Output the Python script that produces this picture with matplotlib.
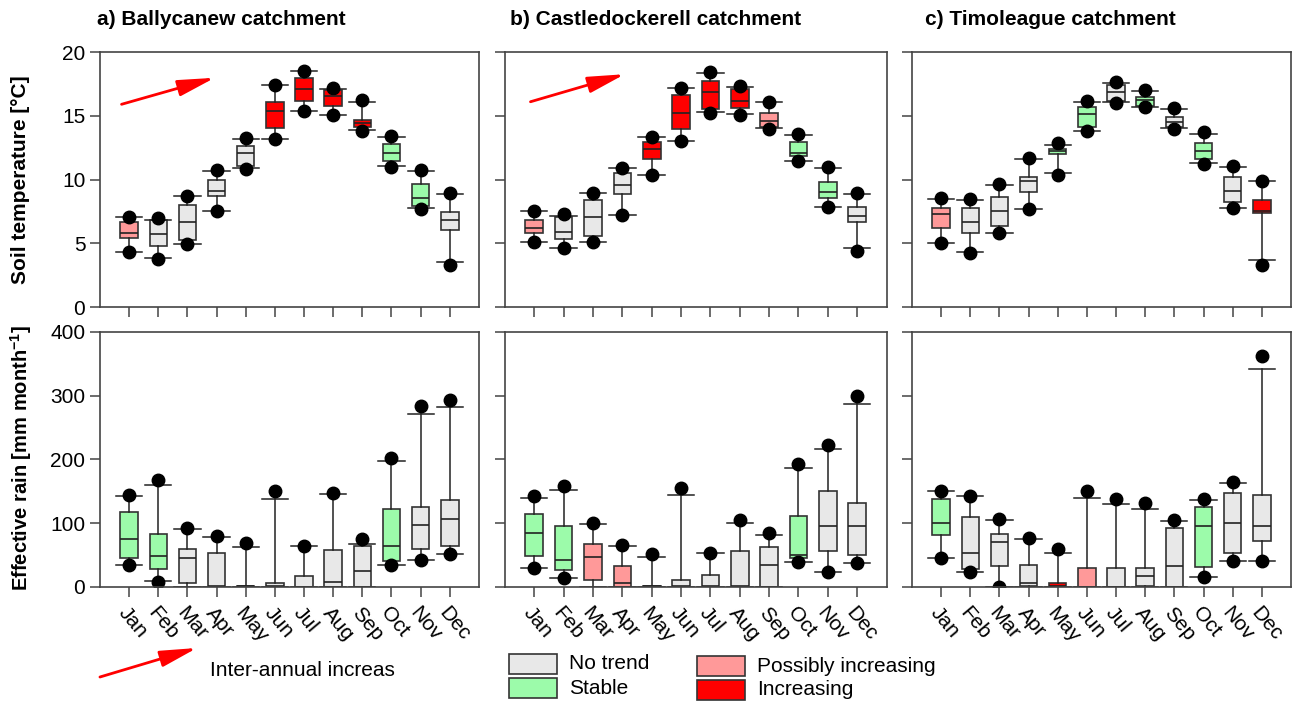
import numpy as np
import matplotlib
matplotlib.use("Agg")
import matplotlib.pyplot as plt
from matplotlib.patches import Rectangle, FancyArrowPatch

plt.rcParams['font.family'] = ['Liberation Sans', 'DejaVu Sans']
plt.rcParams['mathtext.fontset'] = 'custom'
plt.rcParams['mathtext.rm'] = 'Liberation Sans'
plt.rcParams['mathtext.bf'] = 'Liberation Sans:bold'

months = ['Jan', 'Feb', 'Mar', 'Apr', 'May', 'Jun', 'Jul', 'Aug', 'Sep', 'Oct', 'Nov', 'Dec']
catchments = ['a) Ballycanew catchment', 'b) Castledockerell catchment', 'c) Timoleague catchment']
nan = np.nan

# soil temperature, Ballycanew
ta_dot_hi = [7.08, 6.95, 8.73, 10.75, 13.23, 17.41, 18.51, 17.2, 16.24, 13.41, 10.75, 8.92]
ta_whi_hi = [7.05, 6.82, 8.7, 10.7, 13.2, 17.4, 18.5, 17.1, 16.05, 13.31, 10.7, 8.84]
ta_q3 = [6.64, 6.82, 8.0, 9.96, 12.65, 16.05, 17.99, 17.02, 14.67, 12.76, 9.65, 7.48]
ta_med = [5.83, 5.73, 6.64, 9.12, 12.1, 15.4, 17.1, 16.58, 14.4, 12.05, 8.52, 6.82]
ta_q1 = [5.39, 4.78, 5.25, 8.73, 11.06, 14.07, 16.18, 15.76, 14.09, 11.45, 7.92, 6.04]
ta_whi_lo = [4.34, 3.82, 4.94, 7.56, 10.88, 13.18, 15.37, 15.06, 13.88, 11.06, 7.74, 3.56]
ta_dot_lo = [4.34, 3.77, 4.94, 7.56, 10.85, 13.18, 15.37, 15.06, 13.8, 10.98, 7.69, 3.29]
ta_trend = ['P', 'N', 'N', 'N', 'N', 'I', 'I', 'I', 'I', 'S', 'S', 'N']

# soil temperature, Castledockerell
tb_dot_hi = [7.53, 7.27, 8.97, 10.93, 13.31, 17.2, 18.41, 17.33, 16.1, 13.57, 10.96, 8.92]
tb_whi_hi = [7.5, 7.16, 8.95, 10.9, 13.3, 17.15, 18.33, 17.23, 16.05, 13.5, 10.9, 8.85]
tb_q3 = [6.82, 7.03, 8.39, 10.53, 12.92, 16.63, 17.73, 17.1, 15.19, 12.92, 9.78, 7.87]
tb_med = [6.17, 5.86, 7.03, 9.57, 12.39, 15.24, 16.89, 16.16, 14.61, 12.05, 9.05, 7.16]
tb_q1 = [5.83, 5.3, 5.57, 8.86, 11.61, 13.93, 15.5, 15.58, 14.09, 11.84, 8.52, 6.69]
tb_whi_lo = [5.12, 4.65, 5.12, 7.22, 10.35, 13.05, 15.32, 15.14, 14.01, 11.48, 7.82, 4.6]
tb_dot_lo = [5.12, 4.6, 5.12, 7.22, 10.35, 13.05, 15.25, 15.1, 13.96, 11.48, 7.82, 4.42]
tb_trend = ['P', 'N', 'N', 'N', 'I', 'I', 'I', 'I', 'P', 'S', 'S', 'N']

# soil temperature, Timoleague
tc_dot_hi = [8.52, 8.44, 9.65, 11.71, 12.84, 16.18, 17.67, 17.02, 15.63, 13.7, 11.06, 9.88]
tc_whi_hi = [8.5, 8.4, 9.6, 11.58, 12.71, 16.1, 17.59, 16.95, 15.5, 13.6, 11.0, 9.85]
tc_q3 = [7.74, 7.74, 8.65, 10.17, 12.42, 15.71, 17.41, 16.5, 14.93, 12.84, 10.22, 8.39]
tc_med = [7.29, 6.69, 7.56, 9.88, 12.26, 15.14, 16.84, 16.24, 14.54, 12.24, 9.12, 7.56]
tc_q1 = [6.22, 5.83, 6.35, 9.05, 12.0, 14.14, 16.18, 15.76, 14.14, 11.61, 8.26, 7.35]
tc_whi_lo = [4.99, 4.34, 5.78, 7.69, 10.53, 13.83, 16.05, 15.71, 14.01, 11.27, 7.74, 3.69]
tc_dot_lo = [4.99, 4.21, 5.78, 7.69, 10.35, 13.8, 16.0, 15.71, 13.93, 11.19, 7.74, 3.29]
tc_trend = ['P', 'N', 'N', 'N', 'S', 'S', 'N', 'S', 'N', 'S', 'N', 'I']

# effective rain, Ballycanew
ra_dot_hi = [144, 168, 92, 80, 69, 151, 65, 147, 76, 202, 284, 293]
ra_whi_hi = [143, 160, 91, 79, 62, 138, 64, 146, 67, 198, 271, 282]
ra_q3 = [118, 83, 59, 53, 2, 6, 18, 58, 65, 122, 126, 136]
ra_med = [75, 49, 45, 1, 1, 1.5, 0.5, 8, 25, 65, 98, 106]
ra_q1 = [45, 28, 7, 0, 0, 0, 0, 0, 0, 41, 59, 65]
ra_whi_lo = [34, 9, 0, 0, 0, 0, 0, 0, 0, 34, 42, 51]
ra_dot_lo = [34, 8, nan, nan, nan, nan, nan, nan, nan, 34, 42, 51]
ra_trend = ['S', 'S', 'N', 'N', 'N', 'N', 'N', 'N', 'N', 'S', 'N', 'N']

# effective rain, Castledockerell
rb_dot_hi = [142, 159, 100, 66, 51, 156, 54, 105, 84, 193, 222, 299]
rb_whi_hi = [140, 152, 99, 64, 47, 144, 53, 100, 82, 186, 216, 287]
rb_q3 = [114, 95, 68, 33, 2, 11, 19, 56, 63, 112, 150, 132]
rb_med = [84, 43, 47, 7, 1, 1, 1, 2, 34, 50, 95, 96]
rb_q1 = [49, 26, 11, 0, 0, 0, 0, 0, 0, 46, 56, 50]
rb_whi_lo = [29, 14, 0, 0, 0, 0, 0, 0, 0, 39, 23, 37]
rb_dot_lo = [29, 14, nan, nan, nan, nan, nan, nan, nan, 39, 23, 37]
rb_trend = ['S', 'S', 'P', 'P', 'N', 'N', 'N', 'N', 'N', 'S', 'N', 'N']

# effective rain, Timoleague
rc_dot_hi = [151, 143, 106, 77, 59, 151, 138, 131, 105, 138, 165, 363]
rc_whi_hi = [150, 142, 105, 75, 54, 140, 130, 122, 103, 137, 163, 342]
rc_q3 = [138, 110, 83, 34, 6, 29, 30, 29, 92, 126, 147, 145]
rc_med = [100, 54, 71, 6, 2, 0.5, 0.5, 17, 33, 95, 100, 95]
rc_q1 = [81, 28, 33, 1, 0, 0, 0, 1, 0, 31, 53, 72]
rc_whi_lo = [45, 24, 0, 0, 0, 0, 0, 0, 0, 15, 41, 41]
rc_dot_lo = [45, 24, 0, nan, nan, nan, nan, nan, nan, 15, 41, 41]
rc_trend = ['S', 'N', 'N', 'N', 'I', 'P', 'N', 'N', 'N', 'S', 'N', 'N']

colors = {'N': '#e8e8e8', 'S': '#9cfbaa', 'P': '#ff9999', 'I': '#ff0000'}
labels = {'N': 'No trend', 'S': 'Stable', 'P': 'Possibly increasing', 'I': 'Increasing'}

temp = [
    (ta_dot_lo, ta_whi_lo, ta_q1, ta_med, ta_q3, ta_whi_hi, ta_dot_hi, ta_trend),
    (tb_dot_lo, tb_whi_lo, tb_q1, tb_med, tb_q3, tb_whi_hi, tb_dot_hi, tb_trend),
    (tc_dot_lo, tc_whi_lo, tc_q1, tc_med, tc_q3, tc_whi_hi, tc_dot_hi, tc_trend),
]
rain = [
    (ra_dot_lo, ra_whi_lo, ra_q1, ra_med, ra_q3, ra_whi_hi, ra_dot_hi, ra_trend),
    (rb_dot_lo, rb_whi_lo, rb_q1, rb_med, rb_q3, rb_whi_hi, rb_dot_hi, rb_trend),
    (rc_dot_lo, rc_whi_lo, rc_q1, rc_med, rc_q3, rc_whi_hi, rc_dot_hi, rc_trend),
]

arrow_style = '-|>,head_length=1.5,head_width=0.33'


def draw(ax, panel):
    dlo, wlo, q1, med, q3, whi, dhi, trend = panel
    stats = []
    for i in range(12):
        fl = [v for v in (dlo[i], dhi[i]) if not np.isnan(v)]
        stats.append(dict(med=med[i], q1=q1[i], q3=q3[i], whislo=wlo[i], whishi=whi[i], fliers=fl))
    bp = ax.bxp(stats, positions=range(1, 13), widths=0.6, capwidths=0.9, patch_artist=True,
                boxprops=dict(edgecolor='#333333', linewidth=1.2),
                medianprops=dict(color='#222222', linewidth=1.2),
                whiskerprops=dict(color='#222222', linewidth=1.1),
                capprops=dict(color='#222222', linewidth=1.1),
                flierprops=dict(marker='o', markerfacecolor='k', markeredgecolor='k', markersize=9))
    for b, t in zip(bp['boxes'], trend):
        b.set_facecolor(colors[t])
    ax.set_xlim(0, 13)
    ax.set_xticks(range(1, 13))
    for s in ax.spines.values():
        s.set_color('#444444')
        s.set_linewidth(1.2)
    ax.tick_params(direction='out', length=7, width=1.1, color='#444444', labelsize=15)


fig = plt.figure(figsize=(12.98, 7.05), dpi=100)
lefts = [0.077, 0.389, 0.7026]
widths = [0.292, 0.294, 0.292]

for j in range(3):
    ax = fig.add_axes([lefts[j], 0.5645, widths[j], 0.3617])
    draw(ax, temp[j])
    ax.set_ylim(0, 20)
    ax.set_yticks([0, 5, 10, 15, 20])
    ax.set_xticklabels([])
    if j > 0:
        ax.set_yticklabels([])
    fig.text(lefts[j] + 0.006 * j - 0.002, 0.972, catchments[j], fontsize=15, fontweight='bold', va='center')
    if j < 2:
        ax.annotate('', xy=(0.303 + 0.011 * j, 0.899 + 0.014 * j), xytext=(0.057 + 0.01 * j, 0.795 + 0.01 * j),
                    xycoords='axes fraction',
                    arrowprops=dict(arrowstyle=arrow_style, color='red', lw=2,
                                    mutation_scale=15, shrinkA=0, shrinkB=0))

    ax2 = fig.add_axes([lefts[j], 0.1674, widths[j], 0.3617])
    draw(ax2, rain[j])
    ax2.set_ylim(0, 400)
    ax2.set_yticks([0, 100, 200, 300, 400])
    ax2.set_xticklabels(months, rotation=-50, ha='left', va='top', rotation_mode='anchor')
    ax2.tick_params(axis='x', pad=5)
    if j > 0:
        ax2.set_yticklabels([])

fig.text(0.016, 0.745, 'Soil temperature [°C]', rotation=90, fontsize=15, fontweight='bold',
         ha='center', va='center')
fig.text(0.016, 0.35, r'Effective rain [mm month$^{\mathbf{-1}}$]', rotation=90, fontsize=14.5,
         fontweight='bold', ha='center', va='center')

# bottom legend
fig.add_artist(FancyArrowPatch((0.077, 0.0397), (0.1518, 0.0809), transform=fig.transFigure,
                               arrowstyle=arrow_style, color='red', lw=2, mutation_scale=15,
                               shrinkA=0, shrinkB=0))
fig.text(0.1618, 0.0496, 'Inter-annual increas', fontsize=15, va='center')

legend_items = [('N', 0.392, 0.044, 0.4384, 0.0582), ('S', 0.392, 0.0099, 0.4384, 0.0241),
                ('P', 0.537, 0.041, 0.583, 0.0553), ('I', 0.537, 0.0071, 0.583, 0.0213)]
for key, rx, ry, tx, ty in legend_items:
    fig.add_artist(Rectangle((rx, ry), 0.037, 0.0284, transform=fig.transFigure,
                             facecolor=colors[key], edgecolor='#333333', lw=1.2))
    fig.text(tx, ty, labels[key], fontsize=15, va='center')

fig.savefig('out.png', dpi=100)
